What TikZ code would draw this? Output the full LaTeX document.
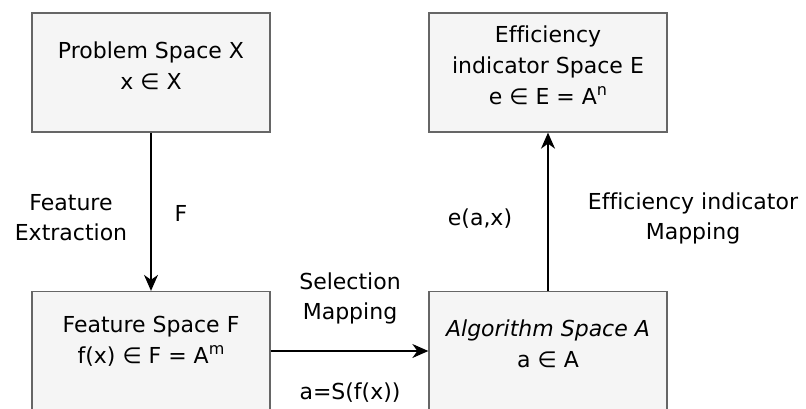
\documentclass[tikz,border=0pt]{standalone}
\usepackage{fontspec}
\setmainfont[Ligatures=NoCommon]{DejaVu Sans}
\usetikzlibrary{arrows.meta}
\definecolor{boxfill}{HTML}{F5F5F5}
\definecolor{boxline}{HTML}{666666}
\newcommand{\supx}[1]{\raisebox{0.75ex}{\fontsize{16}{16}\selectfont #1}}
\begin{document}
\begin{tikzpicture}[x=1pt,y=-1pt,
  spacebox/.style={draw=boxline,fill=boxfill,line width=1.3pt,minimum width=238pt,minimum height=119pt,inner sep=0pt},
  boxtext/.style={align=center,font=\fontsize{22}{31}\selectfont,inner sep=0pt},
  lbl/.style={align=center,font=\fontsize{22}{30}\selectfont,inner sep=0pt},
  conn/.style={line width=1.4pt,-{Stealth[length=16pt,width=14pt,inset=5pt]}}]
\useasboundingbox (0,0) rectangle (806,408);
\clip (0,0) rectangle (806,408);
\fill[white] (0,0) rectangle (806,408);
% boxes
\node[spacebox] (P) at (151,72.5) {};
\node[spacebox] (E) at (548,72.5) {};
\node[spacebox] (F) at (151,351) {};
\node[spacebox] (A) at (548,351) {};
% box texts
\node[boxtext] (Pt) at (151,66) {Problem Space X\\x ∈ X};
\node[boxtext] (Et) at (548,65) {Efficiency\\indicator Space E\\e ∈ E = A\supx{n}};
\node[boxtext] (Ft) at (151,341) {Feature Space F\\f(x) ∈ F = A\supx{m}};
\node[boxtext] (At) at (548,344) {\textit{Algorithm Space A}\\a ∈ A};
% connectors
\draw[conn] (P.south) -- (F.north);
\draw[conn] (F.east) -- (A.west);
\draw[conn] (A.north) -- (E.south);
% labels
\node[lbl] (l1) at (71,218) {Feature\\Extraction};
\node[lbl] (l2) at (181,213) {F};
\node[lbl] (l3) at (350,298) {Selection\\Mapping};
\node[lbl] (l4) at (350,393) {a=S(f(x))};
\node[lbl] (l5) at (480,219) {e(a,x)};
\node[lbl] (l6) at (693,218) {Efficiency indicator\\Mapping};
\end{tikzpicture}
\end{document}
